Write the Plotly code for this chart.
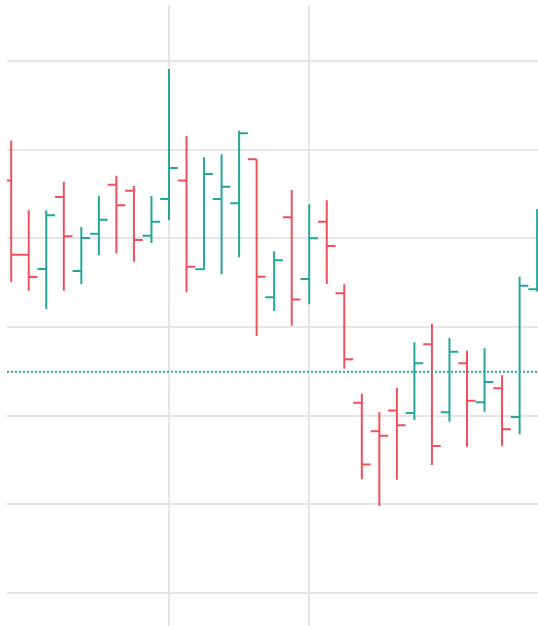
import plotly.graph_objects as go

x_idx = list(range(31))
open_ = [123.27, 119.08, 118.28, 122.34, 118.16, 120.27, 123.04, 122.70, 120.16, 122.23,
         123.27, 118.26, 122.23, 121.99, 124.47, 116.68, 121.20, 117.71, 120.95, 116.90,
         110.72, 109.11, 110.29, 110.14, 114.02, 110.18, 112.95, 110.75, 111.54, 109.92,
         117.13]
high = [125.53, 121.59, 121.59, 123.21, 120.65, 122.40, 123.55, 122.97, 122.40, 129.58,
        125.79, 124.59, 124.76, 126.09, 124.47, 119.28, 122.74, 121.93, 122.16, 117.41,
        111.23, 110.20, 111.57, 114.14, 115.19, 114.38, 113.66, 113.80, 112.27, 117.84,
        121.65]
low = [117.53, 117.05, 116.02, 117.05, 117.41, 119.05, 119.16, 118.69, 119.75, 121.03,
       116.96, 118.24, 117.98, 118.94, 114.49, 115.90, 115.07, 116.28, 117.43, 112.64,
       106.40, 104.89, 106.37, 109.75, 107.20, 109.65, 108.24, 110.21, 108.28, 108.94,
       117.00]
close = [119.08, 117.82, 121.31, 120.12, 120.03, 121.06, 121.88, 119.92, 120.95, 123.98,
         118.41, 123.64, 122.93, 125.94, 117.84, 118.77, 116.56, 120.01, 119.58, 113.18,
         107.24, 108.86, 109.45, 112.95, 108.28, 113.60, 110.84, 111.89, 109.22, 117.33,
         120.80]
grid_x = [9, 17]
ref_level = 112.47

UP = "#26a69a"
DOWN = "#f0505c"

fig = go.Figure()
fig.add_trace(go.Ohlc(
    x=x_idx, open=open_, high=high, low=low, close=close,
    increasing=dict(line=dict(color=UP, width=2)),
    decreasing=dict(line=dict(color=DOWN, width=2)),
    tickwidth=0.5,
    showlegend=False,
    hoverinfo="skip",
))
fig.add_hline(y=ref_level, line=dict(color=UP, width=2, dash="2px,2px"))

fig.update_layout(
    width=538, height=626,
    margin=dict(l=7, r=0, t=5, b=0),
    paper_bgcolor="white", plot_bgcolor="white",
    xaxis=dict(range=[-0.24, 30.05], tickvals=grid_x, showticklabels=False,
               showgrid=True, gridcolor="#e6e6e6", gridwidth=2, zeroline=False,
               rangeslider=dict(visible=False), showline=False, ticks=""),
    yaxis=dict(range=[98.11, 133.19], dtick=5, tick0=100, showticklabels=False,
               showgrid=True, gridcolor="#e6e6e6", gridwidth=2, zeroline=False,
               showline=False, ticks=""),
)
fig.write_html("out.html", config={"displayModeBar": False},
               post_script="document.body.style.margin='0';document.body.style.overflow='hidden';")
